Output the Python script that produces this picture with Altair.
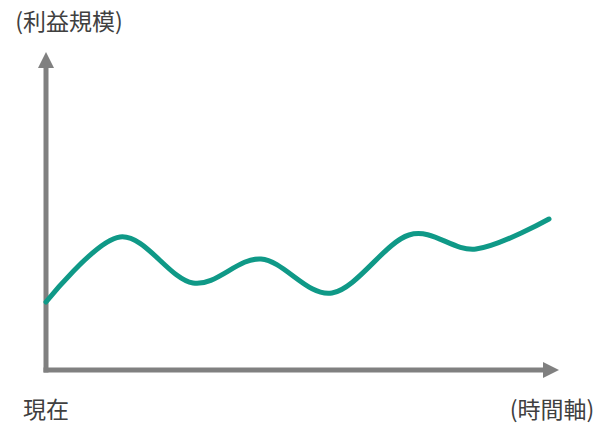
import altair as alt
import pandas as pd

# curve (x: time, y: profit scale)
time_x = [0, 74, 147, 215, 286, 363, 430, 503]
profit_y = [68, 133, 87, 111, 77, 135, 121, 151]

# axis lines and arrow heads
axis_x = [0, 0]
axis_y = [0, 0]
axis_x2 = [0, 497]
axis_y2 = [302, 0]
arrow_x = [0, 505]
arrow_y = [310, 0]
arrow_shape = ["M-1,1L1,1L0,-1Z", "M-1,-1L1,0L-1,1Z"]

# labels
label_text = ["(利益規模)", "現在", "(時間軸)"]
label_x = [23, 0, 506]
label_y = [347, -41, -41]

X = alt.Scale(domain=[0, 520])
Y = alt.Scale(domain=[0, 320])
GRAY = "#808080"
TEAL = "#0f9987"
FONT = "Noto Sans CJK JP"

curve = pd.DataFrame({"t": time_x, "p": profit_y})
axes = pd.DataFrame({"x": axis_x, "y": axis_y, "x2": axis_x2, "y2": axis_y2})
arrows = pd.DataFrame({"x": arrow_x, "y": arrow_y, "s": arrow_shape})
labels = pd.DataFrame({"text": label_text, "x": label_x, "y": label_y})

rules = alt.Chart(axes).mark_rule(color=GRAY, strokeWidth=5, strokeCap="square").encode(
    x=alt.X("x:Q", scale=X, axis=None),
    y=alt.Y("y:Q", scale=Y, axis=None),
    x2="x2:Q",
    y2="y2:Q",
)

heads = alt.Chart(arrows).mark_point(filled=True, color=GRAY, opacity=1, size=256, strokeWidth=0).encode(
    x=alt.X("x:Q", scale=X, axis=None),
    y=alt.Y("y:Q", scale=Y, axis=None),
    shape=alt.Shape("s:N", scale=None, legend=None),
)

line = alt.Chart(curve).mark_line(color=TEAL, strokeWidth=5, interpolate="cardinal", strokeCap="round").encode(
    x=alt.X("t:Q", scale=X, axis=None),
    y=alt.Y("p:Q", scale=Y, axis=None),
)

text = alt.Chart(labels).mark_text(font=FONT, fontSize=23, color="#404040", clip=False).encode(
    x=alt.X("x:Q", scale=X, axis=None),
    y=alt.Y("y:Q", scale=Y, axis=None),
    text="text:N",
)

chart = alt.layer(rules, heads, line, text).properties(
    width=520,
    height=320,
    padding={"left": 38, "top": 42, "right": 32, "bottom": 60},
    autosize=alt.AutoSizeParams(type="none"),
).configure_view(stroke=None)

chart.save("out.html", embed_options={"renderer": "svg", "actions": False})
